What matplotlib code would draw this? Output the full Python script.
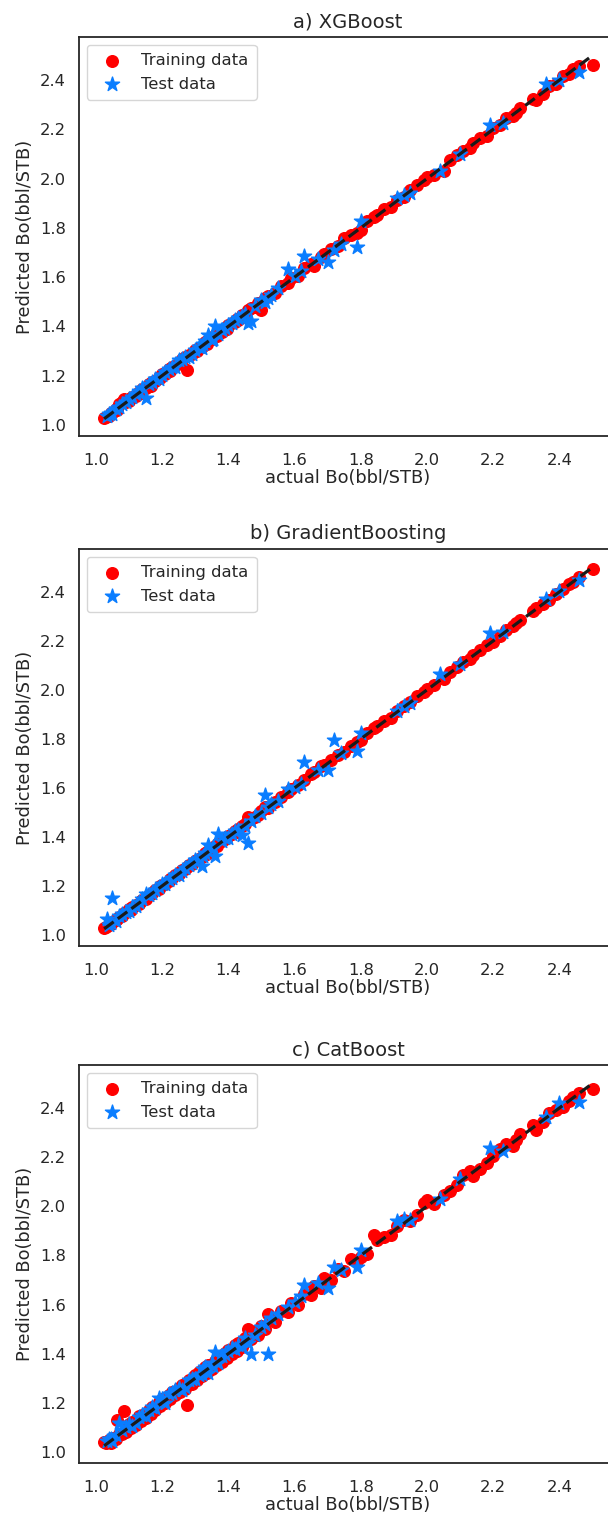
import numpy as np
import matplotlib
matplotlib.use("Agg")
import matplotlib.pyplot as plt
import seaborn as sns

sns.set_theme(style="white")
plt.rcParams['font.family'] = ['DejaVu Sans']

# shared actual values (train / test split)
train_actual = [
    1.025, 1.03, 1.04, 1.045, 1.05, 1.06, 1.065, 1.07, 1.08, 1.085,
    1.09, 1.10, 1.105, 1.11, 1.12, 1.13, 1.135, 1.14, 1.15, 1.16,
    1.165, 1.17, 1.18, 1.19, 1.195, 1.20, 1.21, 1.22, 1.225, 1.23,
    1.24, 1.25, 1.255, 1.26, 1.27, 1.275, 1.28, 1.29, 1.30, 1.305,
    1.31, 1.32, 1.33, 1.335, 1.34, 1.35, 1.36, 1.365, 1.37, 1.38,
    1.39, 1.395, 1.40, 1.41, 1.42, 1.425, 1.43, 1.44, 1.45, 1.46,
    1.47, 1.48, 1.49, 1.50, 1.51, 1.52, 1.54, 1.56, 1.58, 1.59,
    1.61, 1.63, 1.65, 1.66, 1.68, 1.69, 1.71, 1.73, 1.75, 1.77,
    1.79, 1.80, 1.82, 1.84, 1.85, 1.87, 1.89, 1.91, 1.93, 1.95,
    1.97, 1.99, 2.00, 2.02, 2.05, 2.07, 2.09, 2.11, 2.13, 2.14,
    2.16, 2.18, 2.20, 2.22, 2.24, 2.26, 2.27, 2.28, 2.32, 2.33,
    2.35, 2.37, 2.39, 2.41, 2.43, 2.44, 2.46, 2.50]

test_actual = [
    1.035, 1.04, 1.05, 1.06, 1.07, 1.09, 1.12, 1.14, 1.15, 1.17,
    1.19, 1.21, 1.22, 1.24, 1.25, 1.27, 1.29, 1.31, 1.32, 1.33,
    1.34, 1.35, 1.36, 1.37, 1.39, 1.41, 1.43, 1.44, 1.46, 1.47,
    1.50, 1.51, 1.52, 1.55, 1.58, 1.60, 1.62, 1.63, 1.67, 1.70,
    1.72, 1.74, 1.79, 1.80, 1.91, 1.93, 1.95, 2.04, 2.10, 2.19,
    2.23, 2.36, 2.40, 2.46,
    1.045, 1.08, 1.10, 1.11, 1.13, 1.16, 1.18, 1.20, 1.23, 1.26,
    1.28, 1.30, 1.325, 1.355, 1.38, 1.40, 1.42, 1.45, 1.48, 1.53]

# XGBoost predictions
xgb_train_pred = [
    1.028, 1.032, 1.036, 1.050, 1.048, 1.065, 1.060, 1.085, 1.095, 1.105,
    1.095, 1.098, 1.108, 1.113, 1.118, 1.134, 1.130, 1.145, 1.148, 1.165,
    1.160, 1.176, 1.178, 1.195, 1.190, 1.205, 1.208, 1.226, 1.220, 1.236,
    1.238, 1.256, 1.250, 1.266, 1.275, 1.222, 1.284, 1.288, 1.306, 1.300,
    1.314, 1.318, 1.336, 1.330, 1.346, 1.348, 1.366, 1.360, 1.375, 1.378,
    1.395, 1.390, 1.404, 1.415, 1.418, 1.430, 1.428, 1.446, 1.440, 1.465,
    1.475, 1.478, 1.496, 1.465, 1.515, 1.525, 1.536, 1.565, 1.575, 1.596,
    1.606, 1.636, 1.655, 1.645, 1.682, 1.694, 1.714, 1.726, 1.758, 1.772,
    1.778, 1.790, 1.826, 1.846, 1.852, 1.876, 1.884, 1.915, 1.926, 1.955,
    1.975, 1.994, 2.006, 2.016, 2.032, 2.076, 2.095, 2.114, 2.126, 2.146,
    2.165, 2.175, 2.206, 2.216, 2.245, 2.256, 2.268, 2.285, 2.325, 2.318,
    2.345, 2.375, 2.384, 2.416, 2.426, 2.446, 2.458, 2.462]
xgb_test_pred = [
    1.038, 1.045, 1.046, 1.066, 1.072, 1.094, 1.126, 1.150, 1.110, 1.176,
    1.186, 1.214, 1.228, 1.236, 1.262, 1.276, 1.286, 1.318, 1.314, 1.340,
    1.365, 1.344, 1.400, 1.368, 1.394, 1.412, 1.436, 1.442, 1.414, 1.420,
    1.508, 1.500, 1.515, 1.556, 1.632, 1.606, 1.624, 1.685, 1.672, 1.660,
    1.712, 1.735, 1.722, 1.826, 1.920, 1.934, 1.942, 2.030, 2.100, 2.216,
    2.226, 2.383, 2.402, 2.433,
    1.050, 1.084, 1.106, 1.112, 1.136, 1.166, 1.186, 1.204, 1.236, 1.268,
    1.276, 1.306, 1.330, 1.348, 1.386, 1.404, 1.426, 1.452, 1.484, 1.526]

# GradientBoosting predictions
gb_train_pred = [
    1.030, 1.034, 1.042, 1.046, 1.052, 1.060, 1.066, 1.074, 1.078, 1.088,
    1.094, 1.104, 1.102, 1.114, 1.122, 1.128, 1.138, 1.142, 1.148, 1.164,
    1.166, 1.172, 1.182, 1.188, 1.198, 1.204, 1.208, 1.222, 1.228, 1.232,
    1.244, 1.248, 1.258, 1.264, 1.268, 1.276, 1.284, 1.288, 1.302, 1.306,
    1.312, 1.318, 1.334, 1.332, 1.344, 1.346, 1.364, 1.362, 1.374, 1.384,
    1.392, 1.398, 1.404, 1.412, 1.424, 1.422, 1.434, 1.446, 1.452, 1.482,
    1.474, 1.482, 1.488, 1.504, 1.522, 1.518, 1.544, 1.562, 1.584, 1.594,
    1.614, 1.632, 1.656, 1.664, 1.690, 1.694, 1.716, 1.734, 1.748, 1.772,
    1.786, 1.796, 1.824, 1.846, 1.854, 1.872, 1.886, 1.912, 1.934, 1.952,
    1.974, 1.992, 2.004, 2.018, 2.044, 2.074, 2.094, 2.112, 2.128, 2.144,
    2.164, 2.182, 2.196, 2.218, 2.244, 2.262, 2.272, 2.284, 2.322, 2.334,
    2.352, 2.368, 2.392, 2.412, 2.434, 2.442, 2.462, 2.494]
gb_test_pred = [
    1.064, 1.040, 1.152, 1.058, 1.076, 1.092, 1.118, 1.146, 1.168, 1.172,
    1.194, 1.206, 1.226, 1.244, 1.246, 1.272, 1.294, 1.312, 1.282, 1.336,
    1.368, 1.352, 1.322, 1.412, 1.394, 1.414, 1.428, 1.408, 1.374, 1.466,
    1.496, 1.572, 1.522, 1.548, 1.596, 1.604, 1.616, 1.706, 1.672, 1.675,
    1.794, 1.742, 1.752, 1.824, 1.914, 1.936, 1.946, 2.065, 2.104, 2.232,
    2.238, 2.370, 2.404, 2.448,
    1.048, 1.086, 1.098, 1.116, 1.134, 1.162, 1.184, 1.206, 1.232, 1.262,
    1.284, 1.304, 1.322, 1.360, 1.384, 1.396, 1.424, 1.446, 1.486, 1.534]

# CatBoost predictions
cb_train_pred = [
    1.042, 1.038, 1.048, 1.036, 1.058, 1.052, 1.130, 1.075, 1.072, 1.165,
    1.082, 1.112, 1.098, 1.120, 1.108, 1.145, 1.126, 1.152, 1.140, 1.172,
    1.155, 1.184, 1.172, 1.202, 1.186, 1.214, 1.200, 1.232, 1.215, 1.244,
    1.230, 1.262, 1.244, 1.274, 1.258, 1.190, 1.294, 1.278, 1.312, 1.294,
    1.324, 1.308, 1.344, 1.322, 1.354, 1.338, 1.372, 1.352, 1.384, 1.368,
    1.404, 1.382, 1.416, 1.398, 1.436, 1.412, 1.444, 1.428, 1.462, 1.500,
    1.458, 1.494, 1.478, 1.512, 1.500, 1.560, 1.530, 1.574, 1.568, 1.606,
    1.598, 1.644, 1.638, 1.676, 1.668, 1.708, 1.700, 1.744, 1.738, 1.784,
    1.776, 1.792, 1.806, 1.884, 1.862, 1.874, 1.882, 1.920, 1.944, 1.942,
    1.966, 2.012, 2.024, 2.010, 2.046, 2.064, 2.086, 2.126, 2.144, 2.124,
    2.152, 2.176, 2.204, 2.234, 2.252, 2.246, 2.270, 2.296, 2.330, 2.310,
    2.344, 2.380, 2.392, 2.404, 2.428, 2.446, 2.462, 2.478]
cb_test_pred = [
    1.046, 1.052, 1.044, 1.068, 1.118, 1.100, 1.116, 1.152, 1.146, 1.182,
    1.218, 1.200, 1.236, 1.252, 1.262, 1.264, 1.296, 1.312, 1.318, 1.344,
    1.322, 1.362, 1.408, 1.362, 1.398, 1.424, 1.436, 1.432, 1.444, 1.400,
    1.510, 1.522, 1.400, 1.562, 1.588, 1.612, 1.634, 1.678, 1.686, 1.668,
    1.754, 1.742, 1.754, 1.822, 1.940, 1.948, 1.944, 2.030, 2.110, 2.238,
    2.226, 2.362, 2.420, 2.424,
    1.054, 1.090, 1.112, 1.104, 1.142, 1.170, 1.178, 1.214, 1.240, 1.252,
    1.292, 1.296, 1.338, 1.350, 1.392, 1.410, 1.418, 1.462, 1.476, 1.544]

titles = ["a) XGBoost", "b) GradientBoosting", "c) CatBoost"]
preds = [(xgb_train_pred, xgb_test_pred),
         (gb_train_pred, gb_test_pred),
         (cb_train_pred, cb_test_pred)]

W, H = 608, 1517
fig = plt.figure(figsize=(W / 100, H / 100), dpi=100)
boxes = [(37, 436), (549, 946), (1065, 1463)]
left_px, right_px = 79, 617

for (top, bot), title, (ptr, pte) in zip(boxes, titles, preds):
    ax = fig.add_axes([left_px / W, 1 - bot / H, (right_px - left_px) / W, (bot - top) / H])
    ax.scatter(train_actual, ptr, s=70, marker='o', color='#ff0000', label='Training data', zorder=2)
    ax.scatter(test_actual, pte, s=115, marker='*', color='#0a7dff', label='Test data', zorder=3)
    lo = min(min(train_actual), min(test_actual))
    hi = max(max(train_actual), max(test_actual))
    ax.plot([lo, hi], [lo, hi], 'k--', lw=2.3, zorder=4)
    ax.set_xlim(0.949, 2.574)
    ax.set_ylim(0.955, 2.575)
    ax.set_title(title, fontsize=14, pad=7)
    ax.set_xlabel('actual Bo(bbl/STB)', fontsize=12.8, labelpad=1)
    ax.set_ylabel('Predicted Bo(bbl/STB)', fontsize=12.8)
    ax.tick_params(labelsize=11.8)
    ax.tick_params(axis='x', pad=6)
    for sp in ax.spines.values():
        sp.set_color('#262626')
        sp.set_linewidth(1.3)
    ax.legend(loc='upper left', fontsize=11.8, borderpad=0.5, handletextpad=0.8)

fig.savefig('out.png', dpi=100)
